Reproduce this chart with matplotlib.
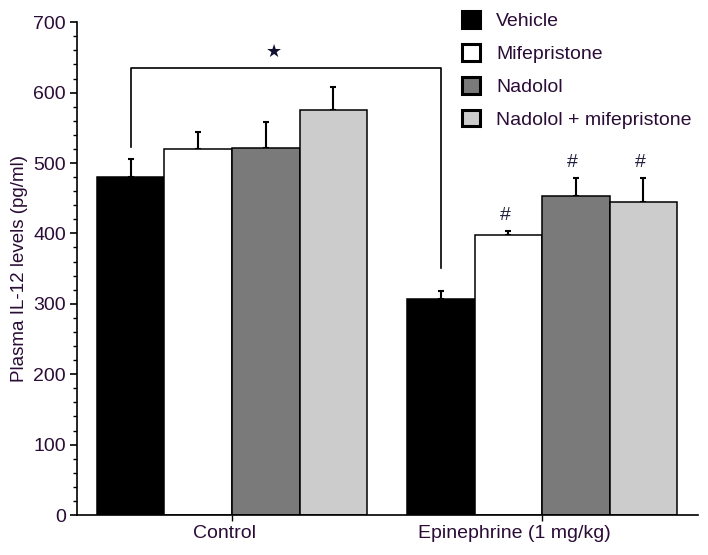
import numpy as np
import matplotlib.pyplot as plt
import matplotlib.transforms as mtransforms
from matplotlib.patches import Patch

# -----------------------------
# Data
# -----------------------------
groups = ['Control', 'Epinephrine (1 mg/kg)']
treatments = ['Vehicle', 'Mifepristone', 'Nadolol', 'Nadolol + mifepristone']
colors = ['#000000', '#ffffff', '#7a7a7a', '#cccccc']

control_mean = [480, 520, 521, 575]
control_sem = [26, 24, 37, 33]
epi_mean = [307, 398, 453, 445]
epi_sem = [11, 5, 26, 34]

hash_marks = [False, True, True, True]   # '#' over epinephrine bars

txt = '#2a0c36'
plt.rcParams['font.family'] = ['Liberation Sans', 'DejaVu Sans']

# -----------------------------
# Figure
# -----------------------------
fig = plt.figure(figsize=(7.08, 5.55), dpi=100)
ax = fig.add_axes([0.1088, 0.072, 0.986 - 0.1088, 0.888])

gap = 0.59
x_ctrl = np.arange(4)
x_epi = np.arange(4) + 4 + gap

for i in range(4):
    ax.bar(x_ctrl[i], control_mean[i], width=1.0, color=colors[i],
           edgecolor='black', linewidth=1.1, zorder=2)
    ax.bar(x_epi[i], epi_mean[i], width=1.0, color=colors[i],
           edgecolor='black', linewidth=1.1, zorder=2)

ax.errorbar(x_ctrl, control_mean, yerr=[np.zeros(4), control_sem], fmt='none',
            ecolor='black', elinewidth=1.5, capsize=2.2, capthick=1.5, zorder=1)
ax.errorbar(x_epi, epi_mean, yerr=[np.zeros(4), epi_sem], fmt='none',
            ecolor='black', elinewidth=1.5, capsize=2.2, capthick=1.5, zorder=1)

# significance bracket Control vehicle vs Epinephrine vehicle
br_top = 635
ax.plot([x_ctrl[0], x_ctrl[0], x_epi[0], x_epi[0]], [523, br_top, br_top, 351],
        color='black', lw=1.2, zorder=3)
ax.text((x_ctrl[0] + x_epi[0]) / 2 - 0.17, br_top + 10, '\u2605', ha='center',
        va='bottom', fontsize=13, color='#101030', family='DejaVu Sans')

for i in range(4):
    if hash_marks[i]:
        ax.text(x_epi[i] - 0.05, epi_mean[i] + epi_sem[i] + 10, '#',
                ha='center', va='bottom', fontsize=14, color='#202040')

# -----------------------------
# Axes
# -----------------------------
ax.set_xlim(-0.795, 8.4)
ax.set_ylim(0, 700)
ax.set_yticks(np.arange(0, 701, 100))
ax.set_yticks(np.arange(0, 701, 20), minor=True)
ax.set_xticks([(x_ctrl[1] + x_ctrl[2]) / 2, (x_epi[1] + x_epi[2]) / 2])
ax.set_xticklabels(groups)

for s in ['top', 'right']:
    ax.spines[s].set_visible(False)
for s in ['left', 'bottom']:
    ax.spines[s].set_linewidth(1.2)

ax.tick_params(axis='y', which='major', length=5, width=1.2, labelsize=14,
               labelcolor=txt, pad=3)
ax.tick_params(axis='y', which='minor', length=3, width=1.0)
ax.tick_params(axis='x', length=4, width=1.0, labelsize=14, labelcolor=txt, pad=3)

# group labels sit a little left of their ticks in the original
for lab, dx in zip(ax.get_xticklabels(), [-8, -28]):
    lab.set_transform(lab.get_transform() +
                      mtransforms.ScaledTranslation(dx / 100, 0, fig.dpi_scale_trans))

ax.set_ylabel('Plasma IL-12 levels (pg/ml)', fontsize=13.5, color=txt, labelpad=4)

# -----------------------------
# Legend
# -----------------------------
handles = [Patch(facecolor=c, edgecolor='black', linewidth=2.2) for c in colors]
ax.legend(handles, treatments, loc='upper left', frameon=False,
          bbox_to_anchor=(0.652, 0.98), bbox_transform=fig.transFigure,
          fontsize=14, handlelength=0.93, handleheight=0.93, handletextpad=0.85,
          labelspacing=0.72, borderpad=0, borderaxespad=0, labelcolor=txt)

plt.savefig('out.png', dpi=100)
